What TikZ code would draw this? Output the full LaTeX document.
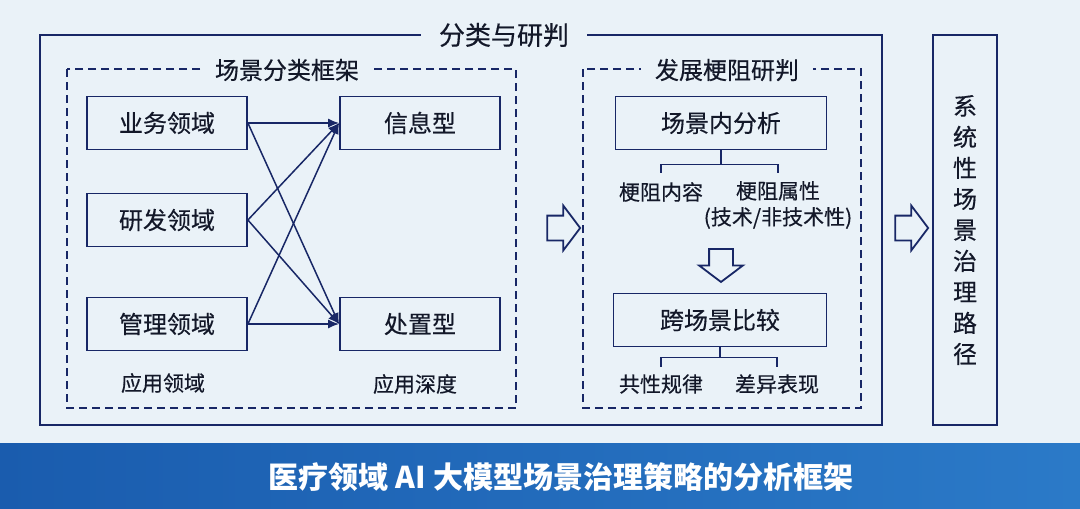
\documentclass[tikz,border=0pt]{standalone}
\usepackage{fontspec}
\setmainfont{Noto Sans CJK SC}
\newfontfamily\heavier[FakeBold=0.4]{Noto Sans CJK SC}
\usetikzlibrary{arrows.meta,positioning,shapes.arrows}
\definecolor{bgpale}{HTML}{EAF2F8}
\definecolor{navy}{HTML}{182766}
\definecolor{inkdark}{HTML}{131829}
\definecolor{bannerdk}{HTML}{1A5CAE}
\definecolor{bannerlt}{HTML}{2B7AC8}
\tikzset{
  frame/.style={draw=navy, line width=2.2pt},
  dashframe/.style={draw=navy, line width=1.7pt, dash pattern=on 8pt off 5pt},
  frametitle/.style={fill=bgpale, text=inkdark, inner xsep=14pt, inner ysep=2pt,
    font=\heavier\fontsize{24}{28}\selectfont},
  catbox/.style={draw=navy, line width=1.8pt, minimum width=160, minimum height=53,
    text=inkdark, font=\heavier\fontsize{24}{28}\selectfont},
  note/.style={text=inkdark, align=center, inner sep=2pt, font=\heavier\fontsize{21}{26}\selectfont},
  arr/.style={-{Latex[length=11pt,width=9pt]}, line width=1.5pt, draw=navy},
  tree/.style={line width=1.6pt, draw=navy},
  hollowarr/.style={shape=single arrow, draw=navy, line width=1.8pt, inner xsep=0pt,
    inner ysep=11.5pt, minimum height=33, single arrow head extend=10,
    single arrow tip angle=106},
  hollowdown/.style={hollowarr, shape border rotate=270, inner xsep=11pt, inner ysep=0pt}
}
\begin{document}
\begin{tikzpicture}[x=1pt,y=-1pt]
  \useasboundingbox (0,0) rectangle (1080,509);
  \fill[bgpale] (0,0) rectangle (1080,509);
  \shade[left color=bannerdk, right color=bannerlt] (0,443) rectangle (1080,509);
  \node[text=white, font=\bfseries\fontsize{30}{34}\selectfont] (caption) at (561,477)
    {医疗领域 AI 大模型场景治理策略的分析框架};

  % frames
  \draw[frame] (40,35) rectangle (882,425);
  \node[frametitle, font=\heavier\fontsize{26}{30}\selectfont, inner xsep=18pt] (outtitle) at (504,35) {分类与研判};
  \draw[dashframe] (67,69) rectangle (516,408);
  \node[frametitle] (lefttitle) at (287,70) {场景分类框架};
  \draw[dashframe] (583,69) rectangle (861,408);
  \node[frametitle] (midtitle) at (727,70) {发展梗阻研判};

  % classification
  \foreach \nm/\yy/\txt in {biz/123/业务领域, rnd/220/研发领域, mgt/324/管理领域}
    \node[catbox] (\nm) at (167,\yy) {\txt};
  \node[catbox] (info) at (420,123) {信息型};
  \node[catbox] (act) at (420,324) {处置型};
  \foreach \s in {biz,rnd,mgt}
    \foreach \t in {info,act}
      \draw[arr] (\s.east) -- (\t.west);
  \node[note] (domlab) at (163,383) {应用领域};
  \node[note] (deplab) at (415,384) {应用深度};

  % obstacles
  \node[catbox, minimum width=211] (inner) at (721,123) {场景内分析};
  \node[note] (content) at (661,192) {梗阻内容};
  \node[note] (attr) at (778,205) {梗阻属性\\(技术/非技术性)};
  \draw[tree] (inner.south) -- ++(0,14) coordinate (ij);
  \draw[tree] (content.north |- ij) -- ++(0,9) (content.north |- ij) -- (attr.north |- ij) -- ++(0,9);
  \node[hollowdown] (down) at (721,261) {};
  \node[catbox, minimum width=213] (cross) at (720,320) {跨场景比较};
  \node[note] (common) at (661,384) {共性规律};
  \node[note] (differ) at (777,384) {差异表现};
  \draw[tree] (cross.south) -- ++(0,10) coordinate (cj);
  \draw[tree] (common.north |- cj) -- ++(0,10) (common.north |- cj) -- (differ.north |- cj) -- ++(0,10);

  % flow
  \node[hollowarr] (step1) at (559,228) {};
  \node[hollowarr] (step2) at (907,228) {};
  \node[draw=navy, line width=2.2pt, minimum width=64, minimum height=390, align=center,
    text=inkdark, font=\heavier\fontsize{24}{31}\selectfont] (path) at (965,230)
    {系\\统\\性\\场\\景\\治\\理\\路\\径};
\end{tikzpicture}
\end{document}
